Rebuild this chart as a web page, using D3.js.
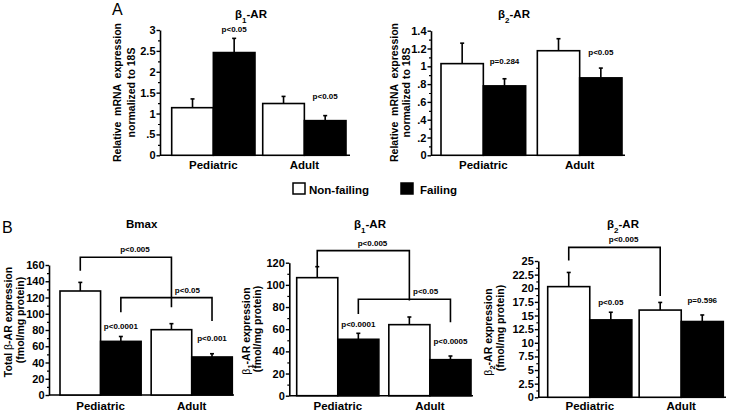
<!DOCTYPE html>
<html><head><meta charset="utf-8">
<script src="https://d3js.org/d3.v7.min.js"></script>
<style>
body{margin:0;background:#fff;}
svg text{font-family:"Liberation Sans",Arial,Helvetica,sans-serif;fill:#000;}
</style></head>
<body><svg id="c" width="730" height="412"></svg>
<script>
// ---------- DATA ----------
const groups = ["Pediatric", "Adult"];
const conditions = ["Non-failing", "Failing"];

// [group][condition] means and SEM (upper error only)
const b1mRNAMean = [[1.14, 2.46], [1.24, 0.83]];
const b1mRNASem  = [[0.21, 0.34], [0.17, 0.12]];
const b1mRNATicks = [0, 0.5, 1, 1.5, 2, 2.5, 3];

const b2mRNAMean = [[1.03, 0.78], [1.175, 0.87]];
const b2mRNASem  = [[0.23, 0.08], [0.135, 0.11]];
const b2mRNATicks = [0, 0.2, 0.4, 0.6, 0.8, 1, 1.2, 1.4];

const bmaxMean = [[128, 66], [80.4, 46.8]];
const bmaxSem  = [[10.6, 6], [7.4, 4]];
const bmaxTicks = [0, 20, 40, 60, 80, 100, 120, 140, 160];

const b1ProtMean = [[106.5, 50.9], [64.1, 32.5]];
const b1ProtSem  = [[9.9, 5.4], [6.9, 3.3]];
const b1ProtTicks = [0, 20, 40, 60, 80, 100, 120];

const b2ProtMean = [[20.3, 14.2], [16.0, 13.9]];
const b2ProtSem  = [[2.6, 1.4], [1.4, 1.2]];
const b2ProtTicks = [0, 2.5, 5, 7.5, 10, 12.5, 15, 17.5, 20, 22.5, 25];

// p-value labels above bars: group, condition, text, level (data units)
const b1mRNAP = [[0, 1, "p<0.05", 2.95], [1, 1, "p<0.05", 1.35]];
const b2mRNAP = [[0, 1, "p=0.284", 1.03], [1, 1, "p<0.05", 1.127]];
const bmaxP   = [[0, 1, "p<0.0001", 81.2], [1, 1, "p<0.001", 66.8]];
const b1ProtP = [[0, 1, "p<0.0001", 62], [1, 1, "p<0.0005", 46.9]];
const b2ProtP = [[0, 1, "p<0.05", 16.9], [1, 1, "p=0.596", 17.3]];

// brackets: [g1,c1,g2,c2, level, leftEnd, rightEnd, text]
const bmaxBrackets = [[0,0,1,0,169.5,153,108,"p<0.005"], [0,1,1,1,119.8,101.8,91,"p<0.05"]];
const b1ProtBrackets = [[0,0,1,0,130.9,117,86,"p<0.005"], [0,1,1,1,87,73.7,66.2,"p<0.05"]];
const b2ProtBrackets = [[0,0,1,0,27.5,25.1,18.6,"p<0.005"]];

// ---------- DRAW ----------
const svg = d3.select("#c");
const fmt = d => { let s = String(d); return s.startsWith("0.") ? s.slice(1) : s; };

function drawPanel(p) {
  const g = svg.append("g");
  const y = d3.scaleLinear().domain(p.domain).range(p.yRange);
  const x0 = d3.scaleBand().domain(groups).range(p.barRange).paddingInner(p.pad).paddingOuter(0);
  const x1 = d3.scaleBand().domain(conditions).range([0, x0.bandwidth()]).padding(0);
  const bx = (gi, ci) => x0(groups[gi]) + x1(conditions[ci]) + x1.bandwidth() / 2;

  // minor ticks
  const minor = [];
  for (let i = 0; i < p.ticks.length - 1; i++) minor.push((p.ticks[i] + p.ticks[i + 1]) / 2);
  g.append("g").attr("transform", `translate(${p.axisX},0)`)
    .call(d3.axisLeft(y).tickValues(minor).tickSize(2).tickFormat(""))
    .call(a => a.select(".domain").remove())
    .call(a => a.selectAll("line").attr("stroke-width", 1.2));
  // y axis
  const ax = g.append("g").attr("transform", `translate(${p.axisX},0)`)
    .call(d3.axisLeft(y).tickValues(p.ticks).tickFormat(fmt).tickSize(3.5).tickSizeOuter(0).tickPadding(1));
  ax.select(".domain").attr("stroke-width", 1.6);
  ax.selectAll("line").attr("stroke-width", 1.4);
  ax.selectAll("text").attr("font-size", 11).attr("font-weight", "bold").style("font-family", '"Liberation Sans",Arial,sans-serif');
  // x axis baseline
  g.append("line").attr("x1", p.axisX).attr("x2", p.xEnd).attr("y1", y(0)).attr("y2", y(0))
    .attr("stroke", "#000").attr("stroke-width", 1.6);

  // bars
  const data = [];
  groups.forEach((gr, gi) => conditions.forEach((c, ci) => data.push({gi, ci, m: p.mean[gi][ci], e: p.sem[gi][ci]})));
  g.selectAll("rect.bar").data(data).join("rect")
    .attr("x", d => x0(groups[d.gi]) + x1(conditions[d.ci]))
    .attr("width", x1.bandwidth())
    .attr("y", d => y(d.m)).attr("height", d => y(0) - y(d.m))
    .attr("fill", d => d.ci === 0 ? "#fff" : "#000")
    .attr("stroke", "#000").attr("stroke-width", 1.6);
  // error bars
  g.selectAll("line.err").data(data).join("line")
    .attr("x1", d => bx(d.gi, d.ci)).attr("x2", d => bx(d.gi, d.ci))
    .attr("y1", d => y(d.m)).attr("y2", d => y(d.m + d.e))
    .attr("stroke", "#000").attr("stroke-width", 1.6);
  g.selectAll("line.cap").data(data).join("line")
    .attr("x1", d => bx(d.gi, d.ci) - 2).attr("x2", d => bx(d.gi, d.ci) + 2)
    .attr("y1", d => y(d.m + d.e)).attr("y2", d => y(d.m + d.e))
    .attr("stroke", "#000").attr("stroke-width", 1.6);

  // group labels
  g.selectAll("text.grp").data(groups).join("text")
    .attr("x", d => x0(d) + x0.bandwidth() / 2).attr("y", p.xLabelY)
    .attr("text-anchor", "middle").attr("font-size", 11.5).attr("font-weight", "bold").text(d => d);

  // p labels
  g.selectAll("text.pv").data(p.pLabels).join("text")
    .attr("x", d => bx(d[0], d[1])).attr("y", d => y(d[3]))
    .attr("text-anchor", "middle").attr("font-size", 8).attr("font-weight", "bold").text(d => d[2]);

  // brackets
  (p.brackets || []).forEach((b, i) => {
    const xa = bx(b[0], b[1]), xb = bx(b[2], b[3]);
    const path = d3.path();
    path.moveTo(xa, y(b[5])); path.lineTo(xa, y(b[4])); path.lineTo(xb, y(b[4])); path.lineTo(xb, y(b[6]));
    g.append("path").attr("d", path.toString()).attr("fill", "none").attr("stroke", "#000").attr("stroke-width", 1.6);
    const frac = i === 0 ? 0.6 : 0.73;
    g.append("text").attr("x", xa + (xb - xa) * frac).attr("y", y(b[4]) - 5)
      .attr("text-anchor", "middle").attr("font-size", 8).attr("font-weight", "bold").text(b[7]);
  });

  // title
  const t = g.append("text").attr("x", p.title[0]).attr("y", p.title[1]).attr("text-anchor", "middle")
    .attr("font-size", 11.5).attr("font-weight", "bold");
  p.titleParts.forEach(tp => {
    const s = t.append("tspan").text(tp[0]);
    if (tp[1] === "sub") s.attr("font-size", 8).attr("baseline-shift", "sub");
    if (tp[1] === "sym") s.attr("font-weight", "normal");
  });

  // y label lines
  p.yLabel.forEach(l => {
    const tx = g.append("text").attr("transform", `translate(${l.x},${l.y}) rotate(-90)`)
      .attr("text-anchor", "middle").attr("dominant-baseline", "central")
      .attr("font-size", 10.5).attr("font-weight", "bold").style("white-space", "pre");
    l.parts.forEach(tp => {
      const s = tx.append("tspan").text(tp[0]);
      if (tp[1] === "sub") s.attr("font-size", 7.5).attr("baseline-shift", "sub");
      if (tp[1] === "sym") s.attr("font-weight", "normal");
    });
  });
}

const protLine2 = [["(fmol/mg protein)"]];

drawPanel({domain: [0, 3], yRange: [155.3, 30], ticks: b1mRNATicks, axisX: 160, xEnd: 350,
  barRange: [171.7, 346], pad: 0.085, mean: b1mRNAMean, sem: b1mRNASem, xLabelY: 169,
  pLabels: b1mRNAP, title: [251, 18], titleParts: [["β", ""], ["1", "sub"], ["-AR", ""]],
  yLabel: [{x: 117, y: 92.5, parts: [["Relative  mRNA  expression"]]}, {x: 130.5, y: 92.5, parts: [["normalized to 18S"]]}]});

drawPanel({domain: [0, 1.4], yRange: [155.3, 30.7], ticks: b2mRNATicks, axisX: 431, xEnd: 625,
  barRange: [441, 622], pad: 0.121, mean: b2mRNAMean, sem: b2mRNASem, xLabelY: 169,
  pLabels: b2mRNAP, title: [514, 18], titleParts: [["β", ""], ["2", "sub"], ["-AR", ""]],
  yLabel: [{x: 394, y: 92.5, parts: [["Relative  mRNA  expression"]]}, {x: 406.3, y: 92.5, parts: [["normalized to 18S"]]}]});

drawPanel({domain: [0, 160], yRange: [395, 265], ticks: bmaxTicks, axisX: 49, xEnd: 234,
  barRange: [60, 232.3], pad: 0.11, mean: bmaxMean, sem: bmaxSem, xLabelY: 410,
  pLabels: bmaxP, brackets: bmaxBrackets, title: [141.7, 228], titleParts: [["Bmax", ""]],
  yLabel: [{x: 7.5, y: 322, parts: [["Total "], ["β", "sym"], ["-AR expression"]]}, {x: 20, y: 320, parts: protLine2}]});

drawPanel({domain: [0, 120], yRange: [395.7, 262.7], ticks: b1ProtTicks, axisX: 289.3, xEnd: 473,
  barRange: [296.7, 471], pad: 0.108, mean: b1ProtMean, sem: b1ProtSem, xLabelY: 410,
  pLabels: b1ProtP, brackets: b1ProtBrackets, title: [370, 228], titleParts: [["β", ""], ["1", "sub"], ["-AR", ""]],
  yLabel: [{x: 245.5, y: 331, parts: [["β", "sym"], ["1", "sub"], ["-AR expression"]]}, {x: 257, y: 329, parts: protLine2}]});

drawPanel({domain: [0, 25], yRange: [397.3, 261], ticks: b2ProtTicks, axisX: 538.3, xEnd: 726,
  barRange: [547.7, 723.3], pad: 0.08, mean: b2ProtMean, sem: b2ProtSem, xLabelY: 410,
  pLabels: b2ProtP, brackets: b2ProtBrackets, title: [623, 228], titleParts: [["β", ""], ["2", "sub"], ["-AR", ""]],
  yLabel: [{x: 488, y: 332, parts: [["β", "sym"], ["2", "sub"], ["-AR expression"]]}, {x: 499.5, y: 328, parts: protLine2}]});

// panel letters
svg.append("text").attr("x", 112).attr("y", 15).attr("font-size", 16).text("A");
svg.append("text").attr("x", 2).attr("y", 233).attr("font-size", 16).text("B");

// legend
const leg = svg.append("g");
const legX = [293, 401];
leg.selectAll("rect").data(conditions).join("rect")
  .attr("x", (d, i) => legX[i]).attr("y", 183).attr("width", 12).attr("height", 11)
  .attr("fill", (d, i) => i === 0 ? "#fff" : "#000").attr("stroke", "#000").attr("stroke-width", 1.5);
leg.selectAll("text").data(conditions).join("text")
  .attr("x", (d, i) => legX[i] + (i === 0 ? 16 : 19)).attr("y", 193.5)
  .attr("font-size", 11.5).attr("font-weight", "bold").text(d => d);
</script></body></html>
